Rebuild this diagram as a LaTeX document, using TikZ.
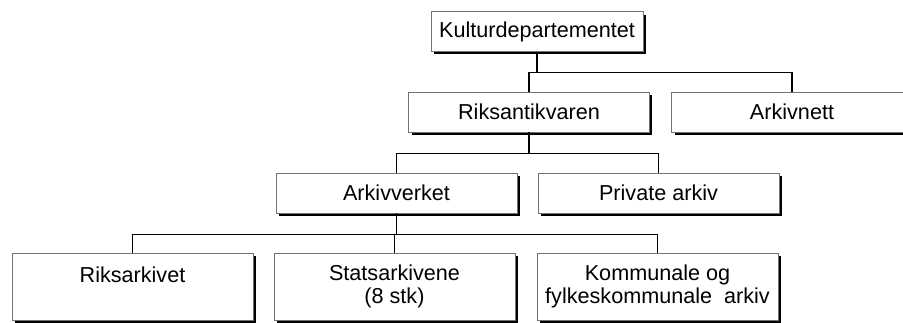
\documentclass[tikz,border=0pt]{standalone}
\usepackage{fontspec}
\setmainfont{Liberation Sans}
\usetikzlibrary{shadows}
\begin{document}
\begin{tikzpicture}[x=0.02cm,y=0.02cm,
  box/.style={rectangle,draw=black!55,line width=0.5pt,fill=white,
    minimum width=4.82cm,minimum height=0.8cm,align=center,
    font=\fontsize{12.3}{13.1}\selectfont,
    drop shadow={shadow xshift=0.06cm,shadow yshift=-0.06cm,fill=black,opacity=1}},
  leaf/.style={box,minimum height=1.34cm},
  conn/.style={line width=0.8pt}]
\useasboundingbox (0,0) rectangle (903,322);
\clip (0,0) rectangle (903,322);
\node[box,minimum width=4.24cm] (kultur) at (537,290.5) {Kulturdepartementet};
\node[box] (riksant) at (529,210) {Riksantikvaren};
\node[box] (arkivnett) at (792,210) {Arkivnett};
\node[box] (arkivverket) at (396.5,129) {Arkivverket};
\node[box] (private) at (658.5,129) {Private arkiv};
\node[leaf] (riksarkivet) at (132.5,35.5) {Riksarkivet\\~};
\node[leaf] (statsark) at (394.5,35.5) {Statsarkivene\\(8 stk)};
\node[leaf] (kommunale) at (657.5,35.5) {Kommunale og\\fylkeskommunale\ \ arkiv};
\draw[conn] (kultur.south) -- ++(0,-21);
\draw[conn] (riksant.north) -- ++(0,19) -| (arkivnett.north);
\draw[conn] (riksant.south) -- ++(0,-22);
\draw[conn] (arkivverket.north) -- ++(0,19) -| (private.north);
\draw[conn] (arkivverket.south) -- ++(0,-22);
\draw[conn] (riksarkivet.north) -- ++(0,18) -| (kommunale.north);
\draw[conn] (statsark.north) -- ++(0,18);
\end{tikzpicture}
\end{document}
